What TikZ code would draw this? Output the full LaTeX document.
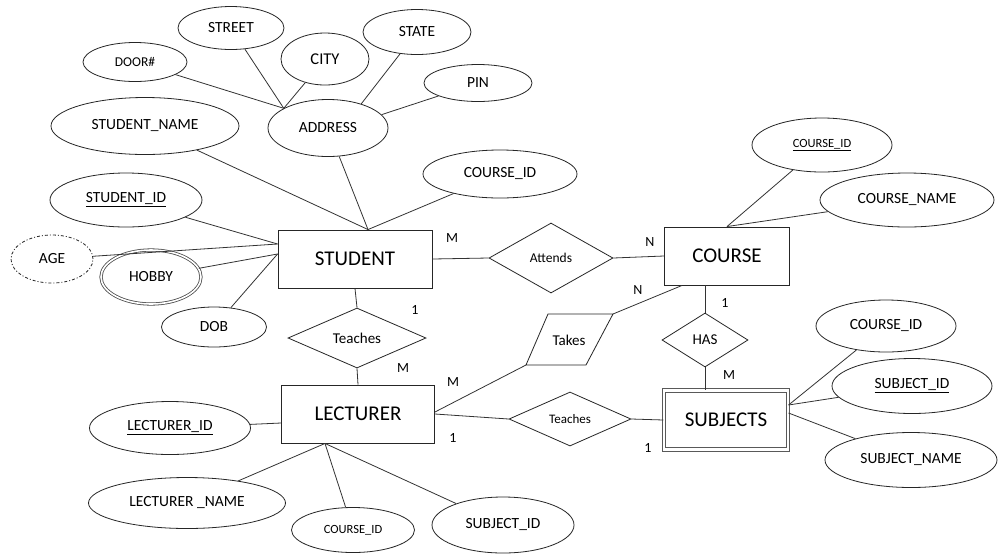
\documentclass[tikz,border=0pt]{standalone}
\usepackage{fontspec}
\setmainfont{Carlito}
\usetikzlibrary{shapes.geometric}
\newcommand\myfs[1]{\fontsize{#1}{#1}\selectfont}
\begin{document}
\begin{tikzpicture}[x=1pt,y=-1pt,
  sz/.style 2 args={minimum width=#1pt,minimum height=#2pt},
  attr/.style={ellipse,draw=black!85,line width=0.8pt,inner sep=0pt,font=\myfs{15.5}},
  ent/.style={rectangle,draw=black!85,line width=0.9pt,inner sep=0pt,font=\myfs{21}},
  rel/.style={diamond,draw=black!85,line width=0.8pt,inner sep=0pt,font=\myfs{15}},
  conn/.style={draw=black!80,line width=0.8pt},
  card/.style={font=\myfs{14},inner sep=0pt}]
\path[use as bounding box,fill=white] (0,0) rectangle (999,558);

% attributes around ADDRESS
\node[attr,sz={106}{43}] (street) at (231,28) {STREET};
\node[attr,sz={104}{39},font=\myfs{13.5}] (door) at (135,62) {DOOR\#};
\node[attr,sz={88}{52},font=\myfs{16.5}] (city) at (325,59) {CITY};
\node[attr,sz={108}{45}] (state) at (417,32) {STATE};
\node[attr,sz={108}{37}] (pin) at (478,83) {PIN};
\node[attr,sz={120}{57}] (address) at (328,128) {ADDRESS};
\node[attr,sz={188}{57}] (sname) at (145,126) {STUDENT\_NAME};
\node[attr,sz={154}{48}] (scid) at (500,174) {COURSE\_ID};
\node[attr,sz={152}{54}] (sid) at (126,200) {\underline{STUDENT\_ID}};
\node[attr,sz={82}{48},dash pattern=on 3pt off 2pt on 1pt off 2pt] (age) at (52,259) {AGE};
\node[attr,sz={100}{54},double=white,double distance=1.6pt,draw=black!70] (hobby) at (151,277) {HOBBY};
\node[attr,sz={105}{40}] (dob) at (214,327) {DOB};

% entities
\node[ent,sz={154}{58}] (student) at (355,259) {STUDENT};
\node[ent,sz={125}{58}] (course) at (727,256) {COURSE};
\node[ent,sz={153}{58}] (lecturer) at (358,414) {LECTURER};
\node[ent,sz={124}{59},double=white,double distance=2.6pt,draw=black!65,line width=1.1pt] (subjects) at (726,420) {SUBJECTS};

% relationships
\node[rel,sz={124}{70},font=\myfs{13.5}] (attends) at (551,258) {Attends};
\node[rel,sz={138}{60}] (teachA) at (357,338) {Teaches};
\node[rel,sz={86}{54}] (has) at (705,340) {HAS};
\node[rel,sz={122}{54},font=\myfs{13}] (teachB) at (570,419) {Teaches};
\node[inner sep=0pt,font=\myfs{15}] (takes) at (569,340) {Takes};
\coordinate (tTL) at (548,314);
\coordinate (tTR) at (613,314);
\coordinate (tBR) at (586,365);
\coordinate (tBL) at (526,365);
\draw[draw=black!85,line width=0.8pt] (tTL) -- (tTR) -- (tBR) -- (tBL) -- cycle;

% course attributes
\node[attr,sz={140}{54},font=\myfs{12.5}] (cid) at (822,145) {\underline{COURSE\_ID}};
\node[attr,sz={174}{54}] (cname) at (907,200) {COURSE\_NAME};

% subject attributes
\node[attr,sz={140}{52}] (sbcid) at (886,326) {COURSE\_ID};
\node[attr,sz={160}{55}] (sbid) at (912,386) {\underline{SUBJECT\_ID}};
\node[attr,sz={172}{55}] (sbname) at (911,460) {SUBJECT\_NAME};

% lecturer attributes
\node[attr,sz={161}{53}] (lid) at (170,428) {\underline{LECTURER\_ID}};
\node[attr,sz={197}{51}] (lname) at (187,503) {LECTURER \_NAME};
\node[attr,sz={123}{45},font=\myfs{12.5}] (lcid) at (353,530) {COURSE\_ID};
\node[attr,sz={142}{56}] (lsid) at (503,525) {SUBJECT\_ID};

% connector end points
\coordinate (stTop) at ([xshift=13pt]student.north);
\coordinate (stL1) at ([yshift=15pt]student.west);
\coordinate (stL2) at ([yshift=5pt]student.west);
\coordinate (lcBot) at ([xshift=-33pt]lecturer.south);
\coordinate (lcL) at ([yshift=-9pt]lecturer.west);
\coordinate (sbR1) at ([yshift=15pt]subjects.east);
\coordinate (sbR2) at ([yshift=7pt]subjects.east);
\coordinate (coBL) at ([xshift=-45pt]course.south);
\coordinate (coB) at ([xshift=-22pt]course.south);
\coordinate (sbT) at ([xshift=-21pt]subjects.north);
\coordinate (lcR) at ([yshift=2pt]lecturer.east);

% connectors
\path[conn] (door) -- (address.156);
\path[conn] (street) -- (address.156);
\path[conn] (city) -- (address.156);
\path[conn] (state) -- (address.36);
\path[conn] (pin) -- (address.14);
\path[conn] (sname) -- (stTop);
\path[conn] (address) -- (stTop);
\path[conn] (scid) -- (stTop);
\path[conn] (sid) -- (stL1);
\path[conn] (age) -- (stL1);
\path[conn] (hobby) -- (stL2);
\path[conn] (dob) -- (stL2);
\path[conn] (student.east) -- (attends.west);
\path[conn] (attends.east) -- (course.west);
\path[conn] (cid) -- (course.north);
\path[conn] (cname) -- (course.north);
\path[conn] (student.south) -- (teachA.north);
\path[conn] (teachA.south) -- (lecturer.north);
\path[conn] (tTR) -- (coBL);
\path[conn] (tBL) -- (lcR);
\path[conn] (coB) -- (has.north);
\path[conn] (has.south) -- (sbT);
\path[conn] (lecturer.east) -- (teachB.west);
\path[conn] (teachB.east) -- (subjects.west);
\path[conn] (sbcid) -- (sbR1);
\path[conn] (sbid) -- (sbR1);
\path[conn] (sbname) -- (sbR2);
\path[conn] (lid) -- (lcL);
\path[conn] (lname) -- (lcBot);
\path[conn] (lcid) -- (lcBot);
\path[conn] (lsid) -- (lcBot);

% cardinalities
\node[card] (c1) at (452,238) {M};
\node[card] (c2) at (650,242) {N};
\node[card] (c3) at (415,310) {1};
\node[card] (c4) at (403,368) {M};
\node[card] (c5) at (638,290) {N};
\node[card] (c6) at (453,382) {M};
\node[card] (c7) at (453,438) {1};
\node[card] (c8) at (648,448) {1};
\node[card] (c9) at (725,303) {1};
\node[card] (c10) at (729,375) {M};
\end{tikzpicture}
\end{document}
